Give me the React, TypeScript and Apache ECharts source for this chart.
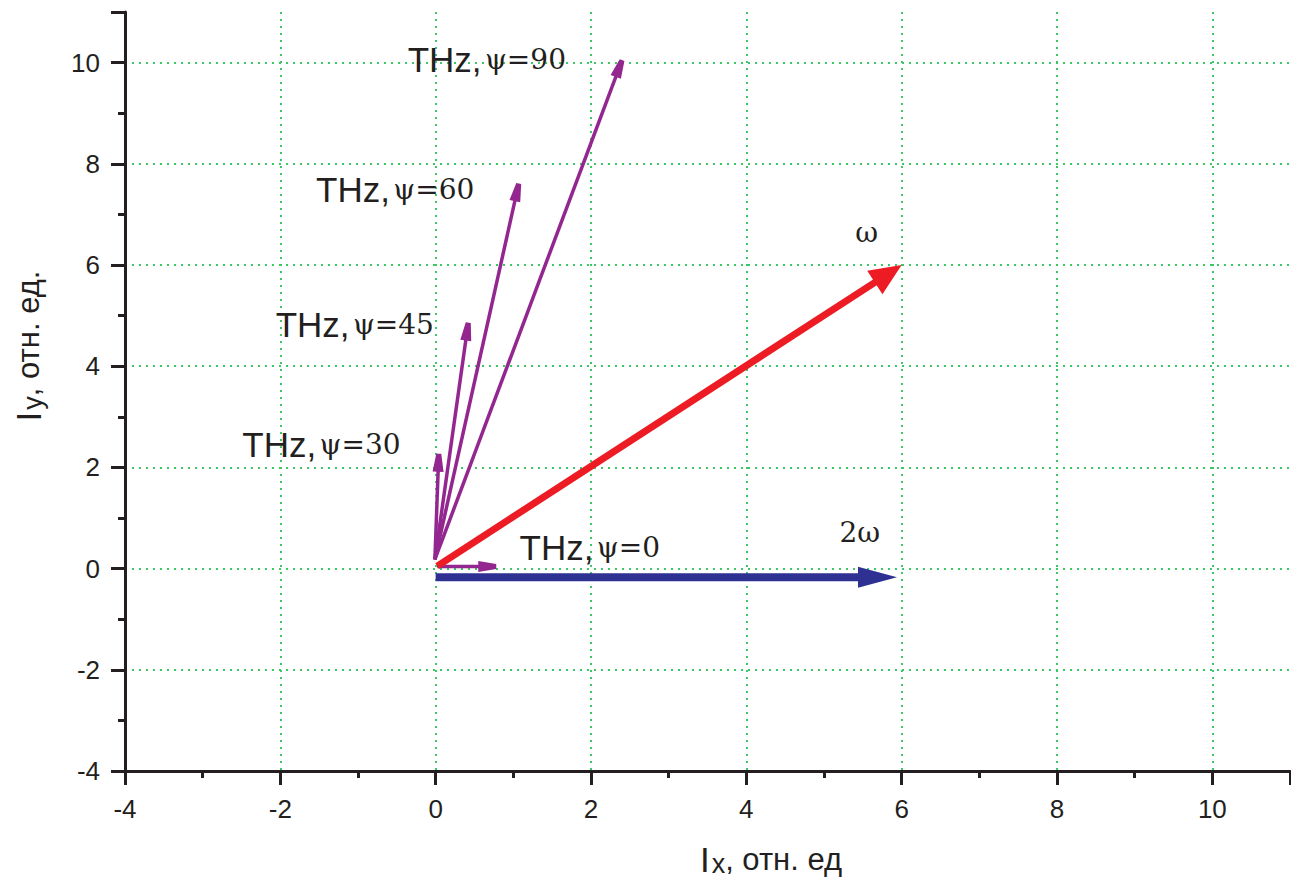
import React, { useEffect, useRef } from "react";
import * as echarts from "echarts";

const INK = "#231f20";
const SANS = '"Liberation Sans", Arial, sans-serif';
const SERIF = '"DejaVu Serif", "Liberation Serif", serif';
const GRID_GREEN = "#3cc864";
const THZ_COLOR = "#93278f";
const OMEGA_COLOR = "#ed1c24";
const TWO_OMEGA_COLOR = "#2e3192";

// Axis ranges (relative units)
const X_MIN = -4;
const X_MAX = 11;
const Y_MIN = -4;
const Y_MAX = 11;
const STEP = 2;

// THz field vectors for each polarization angle psi
const thzPsi = ["0", "30", "45", "60", "90"];
const thzStartX = [0.02, -0.01, -0.01, -0.01, -0.01];
const thzStartY = [0.04, 0.18, 0.18, 0.18, 0.18];
const thzEndX = [0.78, 0.04, 0.42, 1.07, 2.4];
const thzEndY = [0.04, 2.27, 4.86, 7.61, 10.05];

// Pump field vectors: fundamental (omega) and second harmonic (2 omega)
const omegaStart = [0.02, 0.05];
const omegaEnd = [6, 6];
const twoOmegaStart = [0, -0.17];
const twoOmegaEnd = [5.94, -0.17];

// Annotation anchors in axis units
const thzLabelX = [1.08, -2.49, -2.06, -1.54, -0.36];
const thzLabelY = [0.42, 2.45, 4.82, 7.49, 10.06];
const omegaLabel = [5.55, 6.64];
const twoOmegaLabel = [5.46, 0.71];

type ArrowStyle = {
  color: string;
  shaft: number;
  headLen: number;
  headW: number;
  tipW: number;
};

function arrowRenderer(st: ArrowStyle) {
  return (_params: any, api: any) => {
    const a = api.coord([api.value(0), api.value(1)]);
    const b = api.coord([api.value(2), api.value(3)]);
    const dx = b[0] - a[0];
    const dy = b[1] - a[1];
    const len = Math.hypot(dx, dy) || 1;
    const ux = dx / len;
    const uy = dy / len;
    const nx = -uy;
    const ny = ux;
    const bx = b[0] - ux * st.headLen;
    const by = b[1] - uy * st.headLen;
    const hw = st.headW / 2;
    const tw = st.tipW / 2;
    return {
      type: "group",
      children: [
        {
          type: "line",
          shape: { x1: a[0], y1: a[1], x2: bx + ux * 2, y2: by + uy * 2 },
          style: { stroke: st.color, lineWidth: st.shaft, lineCap: "butt" },
        },
        {
          type: "polygon",
          shape: {
            points: [
              [bx + nx * hw, by + ny * hw],
              [b[0] + nx * tw, b[1] + ny * tw],
              [b[0] - nx * tw, b[1] - ny * tw],
              [bx - nx * hw, by - ny * hw],
            ],
          },
          style: { fill: st.color },
        },
      ],
    };
  };
}

const labelRich = {
  s: { fontFamily: SANS, fontSize: 35, fill: INK, color: INK },
  g: { fontFamily: SERIF, fontSize: 28, fill: INK, color: INK },
};

function labelRenderer(texts: string[], align: string) {
  return (params: any, api: any) => {
    const p = api.coord([api.value(0), api.value(1)]);
    return {
      type: "text",
      x: p[0],
      y: p[1],
      style: {
        text: texts[params.dataIndex],
        rich: labelRich,
        align,
        verticalAlign: "middle",
        fill: INK,
      },
    };
  };
}

const titleRich = {
  i: { fontFamily: SANS, fontSize: 35, fill: INK },
  sub: { fontFamily: SANS, fontSize: 27, fill: INK, padding: [10, 0, 0, 2] },
  t: { fontFamily: SANS, fontSize: 31, fill: INK },
};

export default function App() {
  const ref = useRef<HTMLDivElement>(null);

  useEffect(() => {
    if (!ref.current) return;
    const chart = echarts.init(ref.current, undefined, { renderer: "svg" });

    const thzData = thzPsi.map((_, i) => [thzStartX[i], thzStartY[i], thzEndX[i], thzEndY[i]]);
    const thzTexts = thzPsi.map((p) => `{s|THz,} {g|\u03c8=${p}}`);
    const thzLabelData = thzPsi.map((_, i) => [thzLabelX[i], thzLabelY[i]]);

    const axisCommon = {
      type: "value",
      interval: STEP,
      axisLine: { show: true, onZero: false, lineStyle: { color: INK, width: 3 } },
      axisTick: { show: true, inside: false, length: 14, lineStyle: { color: INK, width: 3 } },
      minorTick: { show: true, splitNumber: 2, length: 7, lineStyle: { color: INK, width: 3 } },
      splitLine: {
        show: true,
        showMinLine: false,
        showMaxLine: false,
        lineStyle: { color: GRID_GREEN, width: 2, type: [2, 5] },
      },
      minorSplitLine: { show: false },
      axisLabel: {
        color: INK,
        fontFamily: SANS,
        fontSize: 26,
        margin: 25,
        showMaxLabel: false,
      },
    };

    chart.setOption({
      animation: false,
      backgroundColor: "#ffffff",
      grid: { left: 125, right: 1, top: 12, bottom: 112, containLabel: false },
      xAxis: { ...axisCommon, min: X_MIN, max: X_MAX },
      yAxis: { ...axisCommon, min: Y_MIN, max: Y_MAX },
      graphic: [
        {
          type: "text",
          x: 771,
          y: 859,
          style: {
            text: "{i|I}{sub|x}{t|, отн. ед}",
            align: "center",
            verticalAlign: "middle",
            fill: INK,
            rich: titleRich,
          },
        },
        {
          type: "text",
          x: 28,
          y: 346,
          rotation: Math.PI / 2,
          style: {
            text: "{i|I}{sub|y}{t|, отн. ед.}",
            align: "center",
            verticalAlign: "middle",
            fill: INK,
            rich: titleRich,
          },
        },
      ],
      series: [
        {
          type: "custom",
          name: "2\u03c9",
          renderItem: arrowRenderer({ color: TWO_OMEGA_COLOR, shaft: 8, headLen: 39, headW: 21, tipW: 0 }),
          encode: { x: [0, 2], y: [1, 3] },
          data: [[twoOmegaStart[0], twoOmegaStart[1], twoOmegaEnd[0], twoOmegaEnd[1]]],
          z: 3,
        },
        {
          type: "custom",
          name: "THz",
          renderItem: arrowRenderer({ color: THZ_COLOR, shaft: 3.5, headLen: 18, headW: 11, tipW: 5 }),
          encode: { x: [0, 2], y: [1, 3] },
          data: thzData,
          z: 4,
        },
        {
          type: "custom",
          name: "\u03c9",
          renderItem: arrowRenderer({ color: OMEGA_COLOR, shaft: 7, headLen: 32, headW: 28, tipW: 0 }),
          encode: { x: [0, 2], y: [1, 3] },
          data: [[omegaStart[0], omegaStart[1], omegaEnd[0], omegaEnd[1]]],
          z: 5,
        },
        {
          type: "custom",
          name: "THz labels",
          renderItem: labelRenderer(thzTexts, "left"),
          encode: { x: 0, y: 1 },
          data: thzLabelData,
          z: 6,
        },
        {
          type: "custom",
          name: "pump labels",
          renderItem: labelRenderer(["{g|\u03c9}", "{g|2\u03c9}"], "center"),
          encode: { x: 0, y: 1 },
          data: [omegaLabel, twoOmegaLabel],
          z: 6,
        },
      ],
    });

    return () => chart.dispose();
  }, []);

  return (
    <div
      ref={ref}
      style={{ position: "absolute", left: 0, top: 0, width: 1291, height: 883, background: "#fff" }}
    />
  );
}
